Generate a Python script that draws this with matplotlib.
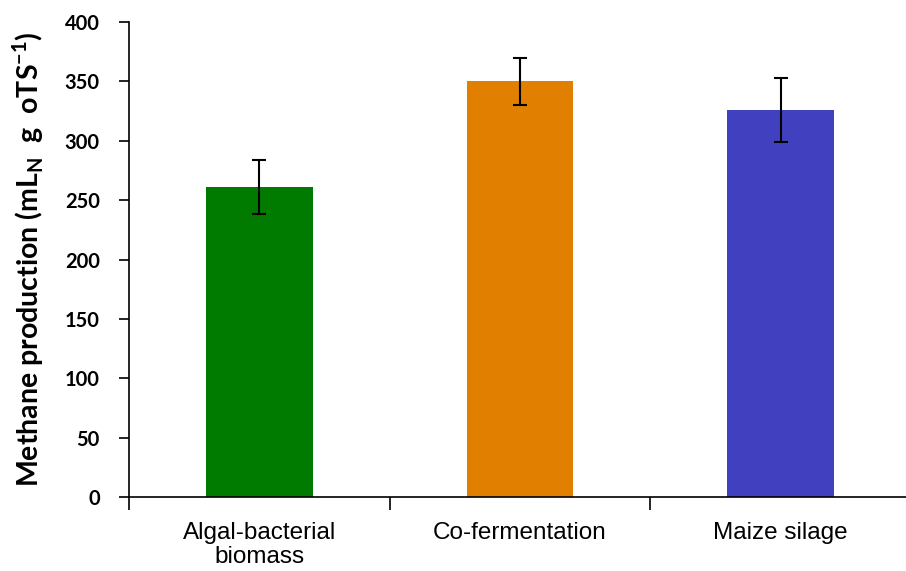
import matplotlib.pyplot as plt
import numpy as np

categories = ['Algal-bacterial\nbiomass', 'Co-fermentation', 'Maize silage']
methane = [261, 350, 326]
errors = [23, 20, 27]
colors = ['#007b00', '#e07f00', '#4141bf']

plt.rcParams['mathtext.fontset'] = 'custom'
plt.rcParams['mathtext.bf'] = 'Lato:bold'
plt.rcParams['mathtext.rm'] = 'Lato:bold'

fig = plt.figure(figsize=(9.06, 5.71), dpi=100)
ax = fig.add_axes([129 / 906, 74 / 571, 782 / 906, 475 / 571])

x = np.arange(len(categories))
ax.bar(x, methane, width=0.41, color=colors, zorder=2)
ax.errorbar(x, methane, yerr=errors, fmt='none', ecolor='black',
            elinewidth=1.5, capsize=5, capthick=1.5, zorder=3)

ax.set_xlim(-0.5, 2.5)
ax.set_ylim(0, 400)
ax.set_yticks(range(0, 401, 50))
ax.set_yticklabels([str(v) for v in range(0, 401, 50)],
                   fontfamily='Lato', fontweight='bold', fontsize=14.5)
ax.tick_params(axis='y', direction='out', length=7, width=1.2, pad=14)

# category labels centred, tick marks at the boundaries
ax.set_xticks(x)
ax.set_xticklabels(categories, fontfamily='Liberation Sans', fontsize=17.5,
                   linespacing=1.1)
ax.tick_params(axis='x', which='major', length=0, pad=18)
ax.set_xticks([-0.5, 0.5, 1.5], minor=True)
ax.tick_params(axis='x', which='minor', direction='out', length=9, width=1.2)

for s in ('top', 'right'):
    ax.spines[s].set_visible(False)
for s in ('left', 'bottom'):
    ax.spines[s].set_linewidth(1.2)

ax.set_ylabel(r'Methane production (mL$_\mathbf{N}$  g  oTS$^\mathbf{-1}$)',
              fontfamily='Lato', fontweight='bold', fontsize=20.5)
ax.yaxis.set_label_coords(-0.106, 0.5)

fig.savefig('out.png', dpi=100)
